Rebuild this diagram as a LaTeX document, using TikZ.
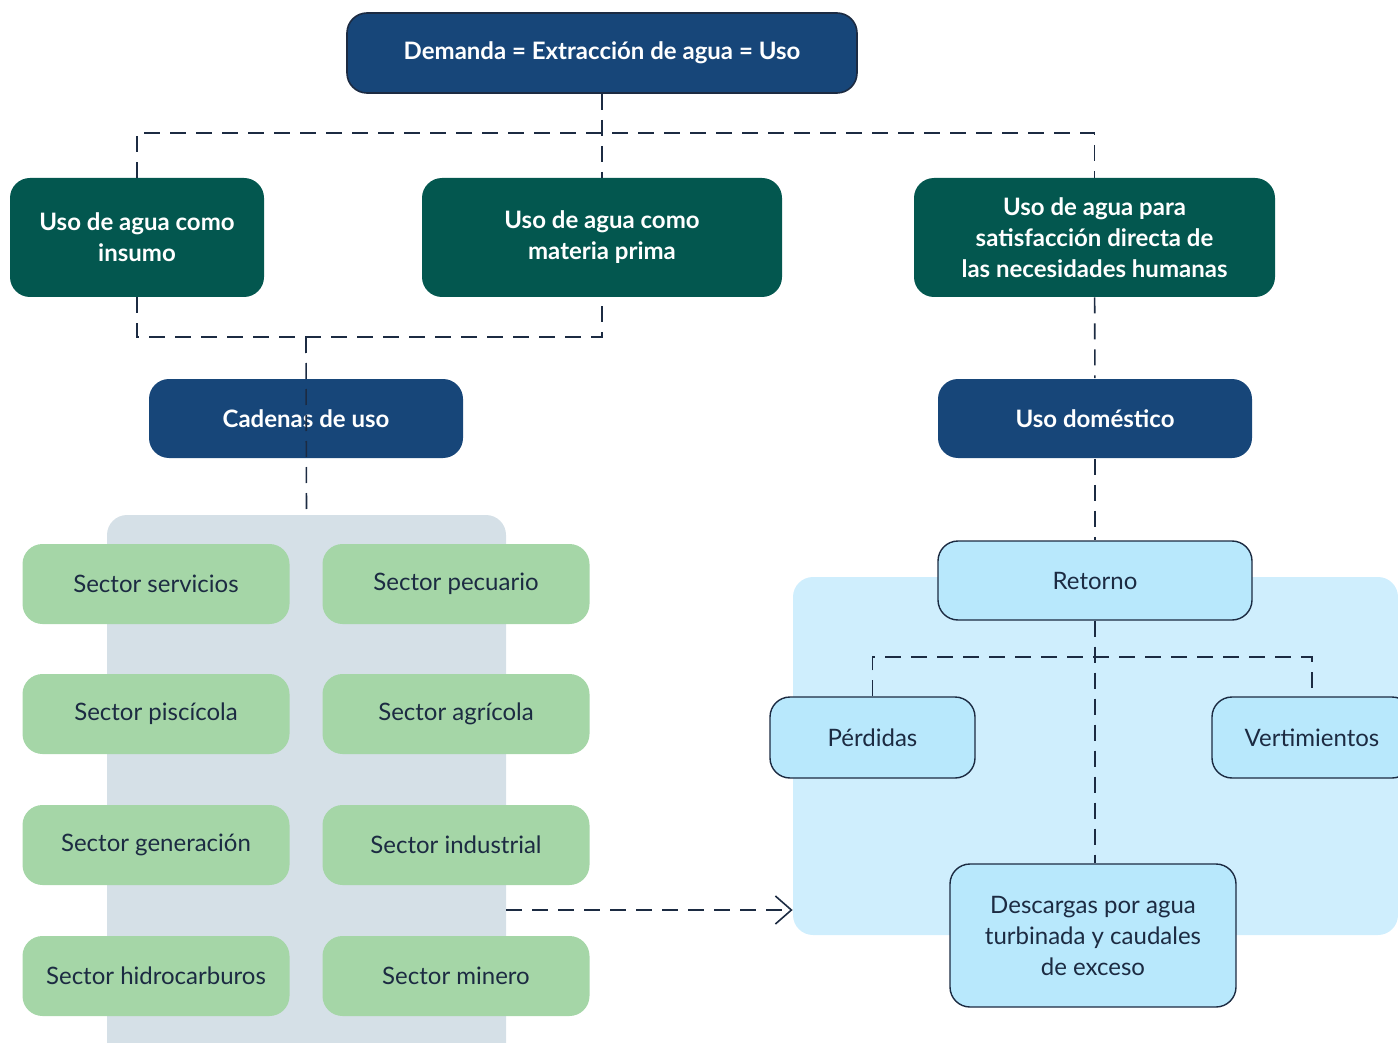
\documentclass[tikz,border=0pt]{standalone}
\usepackage{fontspec}
\setmainfont{Lato}
\usetikzlibrary{arrows.meta}

\definecolor{azulosc}{HTML}{174679}
\definecolor{verdeosc}{HTML}{03574F}
\definecolor{verdeclaro}{HTML}{A5D6A7}
\definecolor{grisbg}{HTML}{D5E0E7}
\definecolor{azulbg}{HTML}{CFEEFD}
\definecolor{azulclaro}{HTML}{B8E8FC}
\definecolor{linea}{HTML}{1C2B42}

\tikzset{
    caja/.style={rounded corners=10pt, align=center, inner sep=0pt, font=\fontsize{12}{15.5}\selectfont},
    cajaazul/.style={caja, fill=azulosc, draw=linea, line width=0.8pt, text=white, font=\fontsize{12}{15.5}\selectfont\bfseries},
    cajaverde/.style={caja, fill=verdeosc, text=white, font=\fontsize{12}{15.5}\selectfont\bfseries},
    sectorbox/.style={caja, fill=verdeclaro, text=linea, minimum width=133.5pt, minimum height=40pt},
    retbox/.style={caja, fill=azulclaro, draw=linea, line width=0.7pt, text=linea},
    fondo/.style={rounded corners=10pt, inner sep=0pt},
    conn/.style={draw=linea, line width=0.8pt, dash pattern=on 8pt off 5pt}
}

\begin{document}
\begin{tikzpicture}[x=0.5pt, y=-0.5pt]
    \clip (0,0) rectangle (1398,1043);
    % Backgrounds
    \node[fondo, fill=grisbg, minimum width=199.5pt, minimum height=284pt] (grisfondo) at (306.5,799) {};
    \node[fondo, fill=azulbg, minimum width=302.5pt, minimum height=179pt] (azulfondo) at (1095.5,756) {};

    % Top level
    \node[cajaazul, minimum width=255pt, minimum height=40pt] (demanda) at (602,53) {Demanda = Extracción de agua = Uso};
    \node[cajaverde, minimum width=127pt, minimum height=59.5pt] (insumo) at (137,237.5) {Uso de agua como\\insumo};
    \node[cajaverde, minimum width=180pt, minimum height=59.5pt] (materia) at (602,237.5) {Uso de agua como\\materia prima};
    \node[cajaverde, minimum width=180.5pt, minimum height=59.5pt] (necesidades) at (1094.5,237.5) {Uso de agua para\\satisfacción directa de\\las necesidades humanas};
    \node[cajaazul, minimum width=157pt, minimum height=39.5pt, draw=none] (cadenas) at (306,418.5) {Cadenas de uso};
    \node[cajaazul, minimum width=157pt, minimum height=39.5pt, draw=none] (domestico) at (1095,418.5) {Uso doméstico};

    % Sectors
    \foreach \nombre/\texto/\px/\py in {
        servicios/Sector servicios/156/584, pecuario/Sector pecuario/456/584,
        piscicola/Sector piscícola/156/714, agricola/Sector agrícola/456/714,
        generacion/Sector generación/156/845, industrial/Sector industrial/456/845,
        hidrocarburos/Sector hidrocarburos/156/976, minero/Sector minero/456/976} {
        \node[sectorbox] (\nombre) at (\px,\py) {\texto};
    }

    % Return branch
    \node[retbox, minimum width=157pt, minimum height=39.5pt] (retorno) at (1095,580.5) {Retorno};
    \node[retbox, minimum width=102.5pt, minimum height=40.5pt] (perdidas) at (872.5,737.5) {Pérdidas};
    \node[retbox, minimum width=100pt, minimum height=40.5pt] (vertimientos) at (1312,737.5) {Vertimientos};
    \node[retbox, minimum width=143pt, minimum height=71.5pt] (descargas) at (1093,935.5) {Descargas por agua\\turbinada y caudales\\de exceso};

    % Connectors
    \coordinate (busarriba) at (602,133);
    \coordinate (busmedio) at (306,337);
    \coordinate (busret) at (1095,657);
    \draw[conn] (demanda) -- (materia);
    \draw[conn] (insumo.north) |- (busarriba) -| (necesidades.north);
    \draw[conn] (insumo.south) |- (busmedio) -| (materia.south);
    \draw[conn] (busmedio) -- (grisfondo.north);
    \draw[conn] (necesidades) -- (domestico);
    \draw[conn] (domestico) -- (retorno);
    \draw[conn] (perdidas.north) |- (busret) -| (vertimientos.north);
    \draw[conn] (retorno.south) -- (retorno.south |- descargas.north);
    \coordinate (flechaini) at (grisfondo.east |- 0,910);
    \coordinate (flechafin) at (azulfondo.west |- 0,910);
    \draw[conn, -{Straight Barb[length=8pt, width=14pt, line width=0.8pt]}] (flechaini) -- (flechafin);
\end{tikzpicture}
\end{document}
